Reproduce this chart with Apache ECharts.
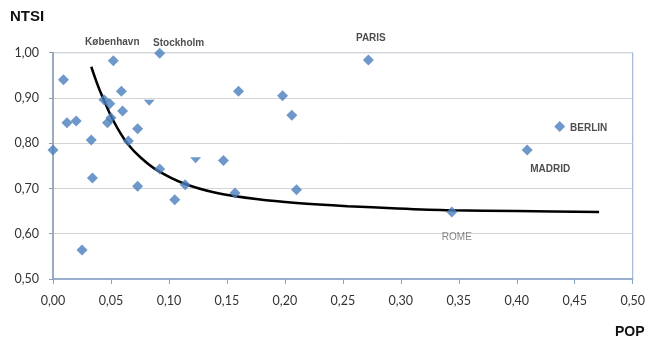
<!DOCTYPE html>
<html>
<head>
<meta charset="utf-8">
<script src="https://cdn.jsdelivr.net/npm/echarts@6/dist/echarts.min.js"></script>
<style>
html,body{margin:0;padding:0;background:#fff;}
#c{width:648px;height:345px;}
</style>
</head>
<body>
<div id="c"></div>
<script>
// Cities (POP, NTSI)
const pop  = [0.000, 0.009, 0.012, 0.020, 0.033, 0.034, 0.025, 0.052, 0.044, 0.049, 0.059, 0.060, 0.047, 0.050, 0.073, 0.065, 0.092, 0.073, 0.092, 0.105, 0.114, 0.147, 0.157, 0.160, 0.198, 0.206, 0.210, 0.272, 0.344, 0.409, 0.437];
const ntsi = [0.785, 0.940, 0.845, 0.849, 0.807, 0.723, 0.564, 0.982, 0.896, 0.887, 0.915, 0.871, 0.845, 0.856, 0.832, 0.805, 0.999, 0.705, 0.743, 0.675, 0.708, 0.762, 0.690, 0.915, 0.905, 0.862, 0.697, 0.984, 0.648, 0.785, 0.837];
const cityNames = ['', '', '', '', '', '', '', 'København', '', '', '', '', '', '', '', '', 'Stockholm', '', '', '', '', '', '', '', '', '', '', 'PARIS', 'ROME', 'MADRID', 'BERLIN'];
// partially visible markers
const partPop  = [0.083, 0.123];
const partNtsi = [0.896, 0.769];
// fitted trend curve
const curvePop  = [0.033, 0.0386, 0.0429, 0.0486, 0.0557, 0.0643, 0.0758, 0.090, 0.1129, 0.1414, 0.177, 0.210, 0.254, 0.297, 0.343, 0.400, 0.471];
const curveNtsi = [0.969, 0.928, 0.901, 0.868, 0.833, 0.799, 0.768, 0.740, 0.711, 0.690, 0.676, 0.668, 0.661, 0.656, 0.652, 0.650, 0.648];
// ticks
const xMin = 0, xMax = 0.5, xStep = 0.05;
const yMin = 0.5, yMax = 1.0, yStep = 0.1;
const xTitle = 'POP', yTitle = 'NTSI';

// label placement (pixel offset of label centre from the marker centre)
const labelDelta = {
  'København': [-1, -18.3],
  'Stockholm': [19, -10],
  'PARIS': [2.5, -21.7],
  'BERLIN': [29, 1.3],
  'MADRID': [23, 19.3],
  'ROME': [5, 25.7]
};
const SYM = 11;
const pts = pop.map((p, i) => {
  const nm = cityNames[i];
  const item = {value: [p, ntsi[i]], name: nm};
  const d = labelDelta[nm];
  if (d) {
    item.label = {
      show: true, formatter: '{b}', fontSize: 10, fontFamily: 'Liberation Sans',
      fontWeight: nm === 'ROME' ? 'normal' : 'bold',
      color: nm === 'ROME' ? '#666' : '#222',
      position: [SYM / 2 + d[0], SYM / 2 + d[1]], align: 'center', verticalAlign: 'middle'
    };
  }
  return item;
});

const fmt = v => v.toFixed(2).replace('.', ',');
const chart = echarts.init(document.getElementById('c'), null, {renderer: 'canvas'});
chart.setOption({
  animation: false,
  backgroundColor: '#fff',
  grid: {left: 53, right: 12, top: 52.7, bottom: 66, show: true, borderColor: '#8eaad4', borderWidth: 1, backgroundColor: 'transparent'},
  graphic: [
    {type: 'text', left: 10, top: 9, style: {text: yTitle, fontSize: 15, fontWeight: 'bold', fontFamily: 'Liberation Sans', fill: '#111'}},
    {type: 'text', left: 615, top: 325, style: {text: xTitle, fontSize: 14, fontWeight: 'bold', fontFamily: 'Liberation Sans', fill: '#111'}}
  ],
  xAxis: {
    type: 'value', min: xMin, max: xMax, interval: xStep,
    axisLine: {show: true, lineStyle: {color: '#8ba3c9', width: 1.5}},
    axisTick: {show: true, length: 5, lineStyle: {color: '#8ba3c9'}},
    splitLine: {show: false},
    axisLabel: {formatter: fmt, fontSize: 12.5, color: '#333', fontFamily: 'Lato', margin: 15}
  },
  yAxis: {
    type: 'value', min: yMin, max: yMax, interval: yStep,
    axisLine: {show: true, lineStyle: {color: '#8f9db3', width: 1.5}},
    axisTick: {show: true, length: 4, lineStyle: {color: '#8f9db3'}},
    splitLine: {show: true, lineStyle: {color: '#d4d4d4', width: 1}},
    axisLabel: {formatter: fmt, fontSize: 12.5, color: '#333', fontFamily: 'Lato', margin: 14}
  },
  series: [
    {
      type: 'line', data: curvePop.map((p, i) => [p, curveNtsi[i]]),
      smooth: 0.3, showSymbol: false, symbol: 'none',
      lineStyle: {color: '#000', width: 2.5}, z: 3
    },
    {
      type: 'scatter', data: pts, symbol: 'diamond', symbolSize: SYM,
      itemStyle: {color: '#4a7ebb'}, z: 4
    },
    {
      type: 'scatter', data: partPop.map((p, i) => [p, partNtsi[i]]),
      symbol: 'triangle', symbolRotate: 180, symbolSize: [11, 6], symbolOffset: [0, 3],
      itemStyle: {color: '#4a7ebb'}, z: 4
    }
  ]
});
</script>
</body>
</html>
